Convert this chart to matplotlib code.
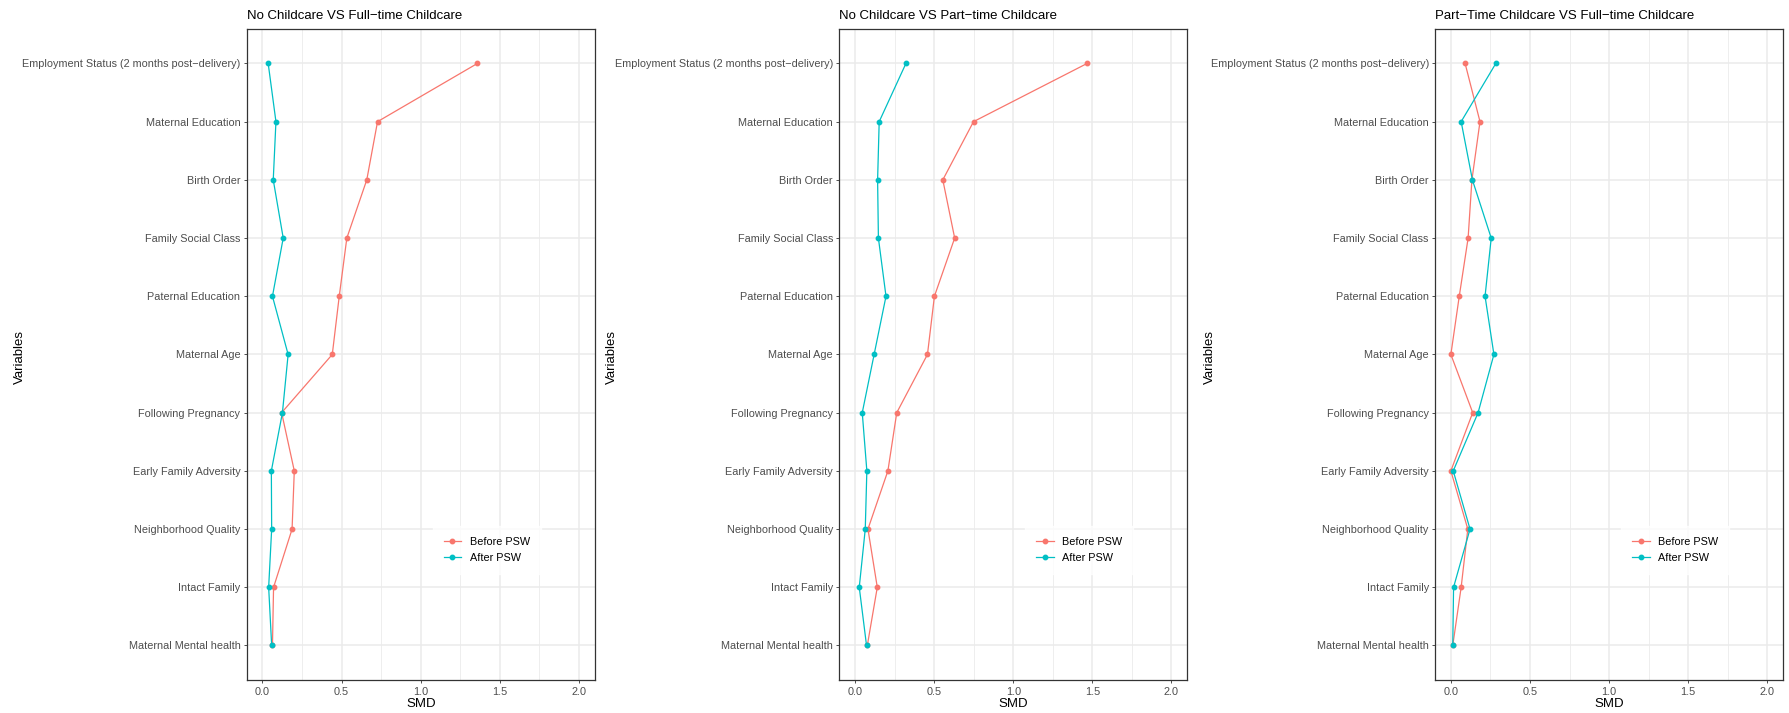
import matplotlib
matplotlib.use("Agg")
import matplotlib.pyplot as plt
import numpy as np

plt.rcParams['font.family'] = ['Liberation Sans', 'DejaVu Sans']

variables = ["Employment Status (2 months post\u2212delivery)", "Maternal Education", "Birth Order",
             "Family Social Class", "Paternal Education", "Maternal Age", "Following Pregnancy",
             "Early Family Adversity", "Neighborhood Quality", "Intact Family", "Maternal Mental health"]

titles = ["No Childcare VS Full\u2212time Childcare",
          "No Childcare VS Part\u2212time Childcare",
          "Part\u2212Time Childcare VS Full\u2212time Childcare"]

# SMD values, same order as variables
before_full = [1.358, 0.727, 0.659, 0.533, 0.485, 0.441, 0.121, 0.201, 0.187, 0.070, 0.063]
after_full = [0.036, 0.085, 0.068, 0.131, 0.063, 0.162, 0.126, 0.056, 0.058, 0.039, 0.058]

before_part = [1.467, 0.749, 0.555, 0.630, 0.502, 0.458, 0.264, 0.208, 0.082, 0.141, 0.078]
after_part = [0.322, 0.153, 0.143, 0.148, 0.196, 0.121, 0.046, 0.075, 0.065, 0.027, 0.073]

before_pt_ft = [0.090, 0.184, 0.133, 0.109, 0.053, 0.000, 0.138, 0.000, 0.107, 0.065, 0.012]
after_pt_ft = [0.284, 0.065, 0.136, 0.255, 0.216, 0.272, 0.172, 0.015, 0.121, 0.017, 0.012]

before_all = [before_full, before_part, before_pt_ft]
after_all = [after_full, after_part, after_pt_ft]

red = "#F8766D"
teal = "#00BFC4"

fig = plt.figure(figsize=(17.9, 7.13), dpi=100)
lefts = [0.1378, 0.4688, 0.8017]
width = 0.1945
ylab_x = [0.011, 0.342, 0.676]
n = len(variables)
ypos = np.arange(n, 0, -1)

for k in range(3):
	ax = fig.add_axes([lefts[k], 0.0457, width, 0.9143])
	ax.set_axisbelow(True)
	# ggplot-like grid
	for v in np.arange(0.25, 2.0, 0.5):
		ax.axvline(v, color="#EBEBEB", lw=0.6, zorder=0)
	for v in np.arange(0, 2.01, 0.5):
		ax.axvline(v, color="#EBEBEB", lw=1.1, zorder=0)
	for y in ypos:
		ax.axhline(y, color="#EBEBEB", lw=1.1, zorder=0)
	ax.plot(before_all[k], ypos, color=red, lw=0.9, marker="o", ms=3.2, label="Before PSW", zorder=3)
	ax.plot(after_all[k], ypos, color=teal, lw=0.9, marker="o", ms=3.2, label="After PSW", zorder=3)
	ax.set_xlim(-0.1, 2.1)
	ax.set_ylim(0.4, n + 0.6)
	ax.set_xticks([0, 0.5, 1.0, 1.5, 2.0])
	ax.set_xticklabels(["0.0", "0.5", "1.0", "1.5", "2.0"])
	ax.set_yticks(ypos)
	ax.set_yticklabels(variables)
	ax.tick_params(axis="both", labelsize=7.8, colors="#333333", labelcolor="#4D4D4D", length=2.5, width=0.6, pad=2)
	for s in ax.spines.values():
		s.set_color("#333333")
		s.set_linewidth(0.9)
	ax.set_xlabel("SMD", fontsize=9.5, labelpad=1)
	ax.set_title(titles[k], loc="left", fontsize=9.5, pad=7)
	leg = ax.legend(loc="center", bbox_to_anchor=(0.69, 0.2), frameon=True, fontsize=7.8,
	                handlelength=1.6, borderpad=1.0, labelspacing=0.6, fancybox=False)
	leg.get_frame().set_edgecolor("white")
	leg.get_frame().set_facecolor("white")
	leg.set_zorder(5)
	fig.text(ylab_x[k], 0.5, "Variables", rotation=90, va="center", ha="center", fontsize=9.5)

plt.savefig("out.png", dpi=100)
